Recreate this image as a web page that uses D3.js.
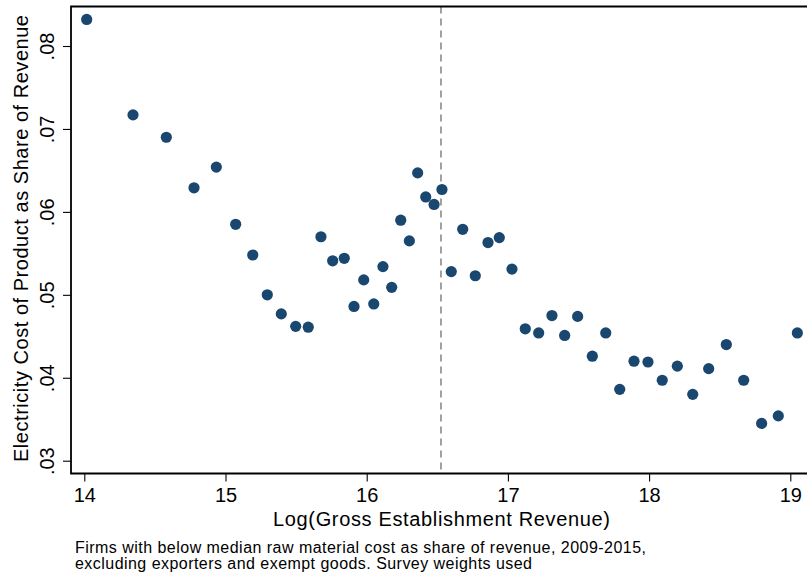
<!DOCTYPE html>
<html>
<head>
<meta charset="utf-8">
<script src="https://cdn.jsdelivr.net/npm/d3@7"></script>
<style>
  html, body { margin: 0; padding: 0; background: #fff; }
  svg { display: block; font-family: "Liberation Sans", Arial, sans-serif; }
</style>
</head>
<body>
<svg id="chart" width="807" height="574"></svg>
<script>
// Binned scatter: log establishment revenue vs electricity cost share
const logRevenue = [
  14.017, 14.345, 14.581, 14.777, 14.935, 15.072, 15.193, 15.296, 15.395, 15.497,
  15.586, 15.676, 15.759, 15.841, 15.910, 15.979, 16.050, 16.115, 16.177, 16.241,
  16.302, 16.361, 16.418, 16.477, 16.533, 16.599, 16.680, 16.769, 16.859, 16.939,
  17.029, 17.123, 17.218, 17.312, 17.402, 17.494, 17.598, 17.693, 17.792, 17.893,
  17.992, 18.093, 18.200, 18.309, 18.422, 18.547, 18.670, 18.797, 18.915, 19.050
];
const elecShare = [
  0.0832, 0.0717, 0.0690, 0.0629, 0.0654, 0.0585, 0.0548, 0.0500, 0.0477, 0.0462,
  0.0461, 0.0570, 0.0541, 0.0544, 0.0486, 0.0518, 0.0489, 0.0534, 0.0509, 0.0590,
  0.0565, 0.0647, 0.0618, 0.0609, 0.0627, 0.0528, 0.0579, 0.0523, 0.0563, 0.0569,
  0.0531, 0.0459, 0.0454, 0.0475, 0.0451, 0.0474, 0.0426, 0.0454, 0.0386, 0.0420,
  0.0419, 0.0397, 0.0414, 0.0380, 0.0411, 0.0440, 0.0397, 0.0345, 0.0354, 0.0454
];
const xTicks = [14, 15, 16, 17, 18, 19];
const yTicks = [0.03, 0.04, 0.05, 0.06, 0.07, 0.08];
const cutoff = 16.526;   // median log revenue

const xTitle = "Log(Gross Establishment Revenue)";
const yTitle = "Electricity Cost of Product as Share of Revenue";
const note = [
  "Firms with below median raw material cost as share of revenue, 2009-2015,",
  "excluding exporters and exempt goods. Survey weights used"
];
const noteWidths = [571, 457];

const svg = d3.select("#chart");

// plot region frame
const frame = { left: 71, top: 6.5, bottom: 473.5, right: 812 };

const x = d3.scaleLinear().domain([14, 19]).range([84.3, 790.3]);
const y = d3.scaleLinear().domain([0.03, 0.08]).range([460.7, 46]);

// vertical dashed reference line
svg.append("line")
  .attr("x1", x(cutoff)).attr("x2", x(cutoff))
  .attr("y1", frame.top).attr("y2", frame.bottom)
  .attr("stroke", "#8a8a8a")
  .attr("stroke-width", 1.6)
  .attr("stroke-dasharray", "7,5");

// points
const pts = logRevenue.map((v, i) => ({ x: v, y: elecShare[i] }));
svg.append("g").selectAll("circle")
  .data(pts)
  .join("circle")
  .attr("cx", d => x(d.x))
  .attr("cy", d => y(d.y))
  .attr("r", 5.6)
  .attr("fill", "#1a476f");

// frame lines (left, top, bottom)
svg.append("path")
  .attr("d", `M${frame.right},${frame.top}H${frame.left}V${frame.bottom}H${frame.right}`)
  .attr("fill", "none")
  .attr("stroke", "#000")
  .attr("stroke-width", 1.8);

const fmt = d => d3.format(".2f")(d).replace(/^0/, "");

// y axis
const yAxis = svg.append("g")
  .attr("transform", `translate(${frame.left},0)`)
  .call(d3.axisLeft(y).tickValues(yTicks).tickSize(8).tickFormat(fmt));
yAxis.select(".domain").remove();
yAxis.selectAll(".tick line").attr("stroke", "#000").attr("stroke-width", 1.1);
yAxis.selectAll(".tick text")
  .attr("x", null).attr("dy", null)
  .attr("transform", "translate(-17.5,0) rotate(-90)")
  .attr("text-anchor", "middle")
  .attr("font-size", 20)
  .attr("font-family", "'Liberation Sans', Arial, sans-serif")
  .attr("fill", "#000");

// x axis
const xAxis = svg.append("g")
  .attr("transform", `translate(0,${frame.bottom})`)
  .call(d3.axisBottom(x).tickValues(xTicks).tickSize(8).tickFormat(d3.format("d")));
xAxis.select(".domain").remove();
xAxis.selectAll(".tick line").attr("stroke", "#000").attr("stroke-width", 1.1);
xAxis.selectAll(".tick text")
  .attr("y", 28).attr("dy", null)
  .attr("font-size", 20)
  .attr("font-family", "'Liberation Sans', Arial, sans-serif")
  .attr("fill", "#000");

// axis titles
svg.append("text")
  .attr("x", 441.5).attr("y", 526)
  .attr("text-anchor", "middle")
  .attr("font-size", 20)
  .attr("textLength", 337)
  .attr("lengthAdjust", "spacing")
  .text(xTitle);

svg.append("text")
  .attr("transform", "translate(28,238.5) rotate(-90)")
  .attr("text-anchor", "middle")
  .attr("font-size", 20)
  .attr("textLength", 447)
  .attr("lengthAdjust", "spacing")
  .text(yTitle);

// note
svg.append("g").selectAll("text")
  .data(note)
  .join("text")
  .attr("x", 75)
  .attr("y", (d, i) => 553.3 + i * 16)
  .attr("font-size", 16)
  .attr("textLength", (d, i) => noteWidths[i])
  .attr("lengthAdjust", "spacing")
  .text(d => d);
</script>
</body>
</html>
